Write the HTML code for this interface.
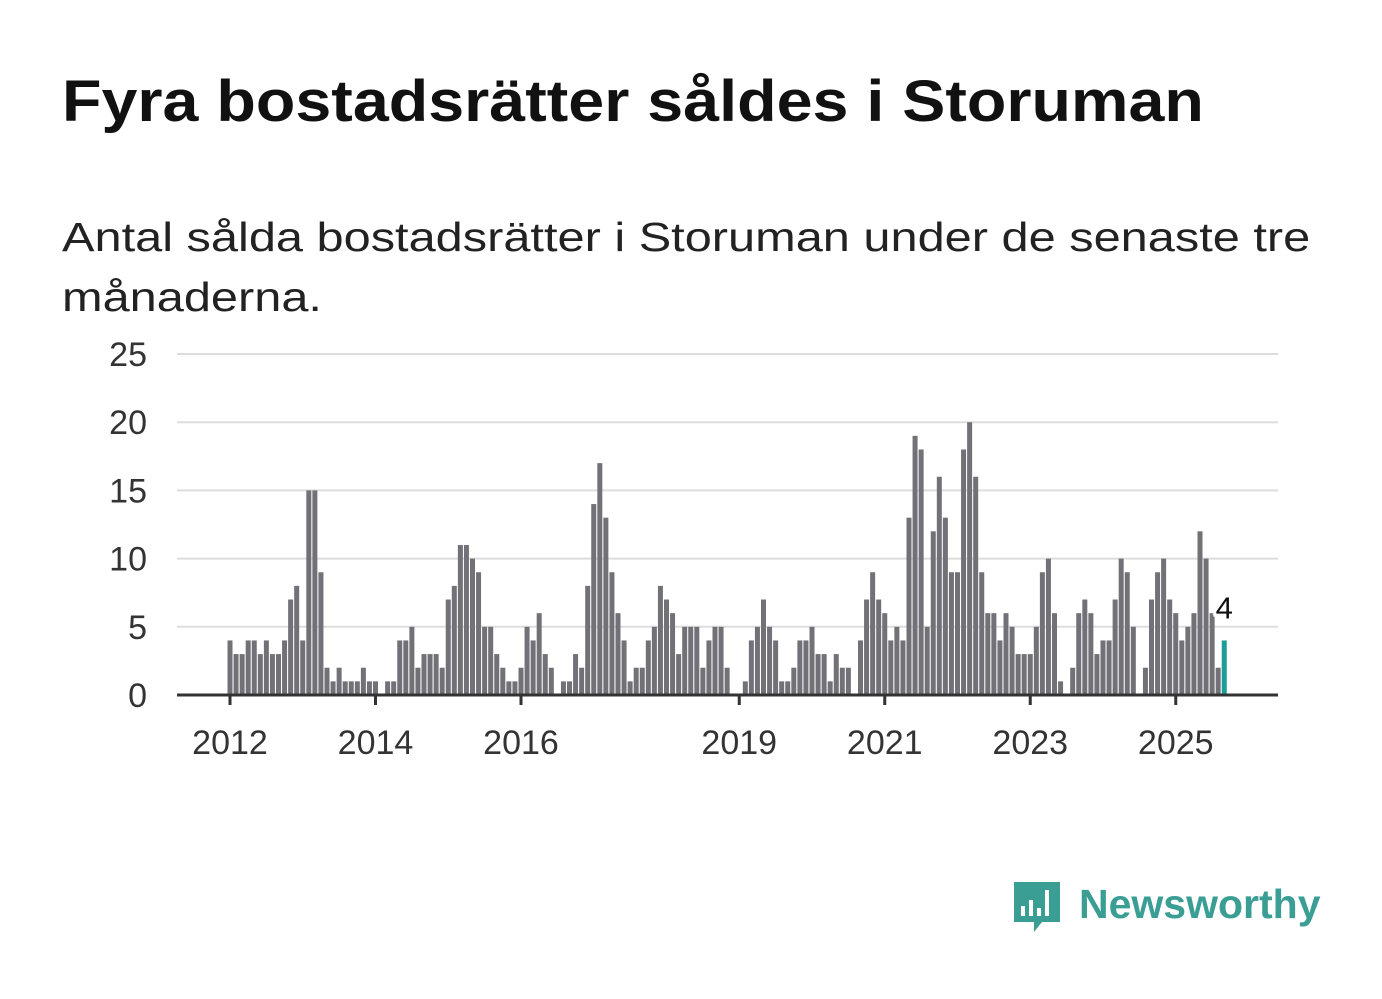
<!DOCTYPE html>
<html><head><meta charset="utf-8"><style>
body{margin:0;background:#fff;width:1382px;height:999px;overflow:hidden;font-family:"Liberation Sans",sans-serif}
#title{position:absolute;left:62px;top:68px;font-size:58px;font-weight:bold;color:#111;margin:0;white-space:nowrap;transform:scaleX(1.114);transform-origin:0 0}
.sub{position:absolute;left:62px;font-size:41px;color:#222;white-space:nowrap;transform:scaleX(1.188);transform-origin:0 0}
#logo{position:absolute;left:1012px;top:880px}
</style></head><body>
<h1 id="title">Fyra bostadsrätter såldes i Storuman</h1>
<div class="sub" style="top:214px">Antal sålda bostadsrätter i Storuman under de senaste tre</div>
<div class="sub" style="top:274px">månaderna.</div>
<svg id="chart" width="1382" height="999" style="position:absolute;left:0;top:0" xmlns="http://www.w3.org/2000/svg"></svg>
<div id="logo">
<svg width="310" height="60" xmlns="http://www.w3.org/2000/svg">
<path d="M2 2h46v40h-18l-8 10v-10h-20z" fill="#3a9e94"/>
<rect x="9" y="26" width="4" height="10" fill="#fff"/><rect x="17" y="20" width="4" height="16" fill="#fff"/><rect x="25" y="28" width="4" height="8" fill="#fff"/><rect x="33" y="10" width="4" height="26" fill="#fff"/>
<text x="67" y="38" font-size="41" font-weight="bold" fill="#3a9e94" font-family="Liberation Sans, sans-serif">Newsworthy</text>
</svg></div>
<script>
const values = [
4,3,3,4,4,3,4,3,3,4,7,8,
4,15,15,9,2,1,2,1,1,1,2,1,
1,0,1,1,4,4,5,2,3,3,3,2,
7,8,11,11,10,9,5,5,3,2,1,1,
2,5,4,6,3,2,0,1,1,3,2,8,
14,17,13,9,6,4,1,2,2,4,5,8,
7,6,3,5,5,5,2,4,5,5,2,0,
0,1,4,5,7,5,4,1,1,2,4,4,
5,3,3,1,3,2,2,0,4,7,9,7,
6,4,5,4,13,19,18,5,12,16,13,9,
9,18,20,16,9,6,6,4,6,5,3,3,
3,5,9,10,6,1,0,2,6,7,6,3,
4,4,7,10,9,5,0,2,7,9,10,7,
6,4,5,6,12,10,6,2,4];
const startYear = 2012;
const yTicks = [0,5,10,15,20,25];
const xTickYears = [2012,2014,2016,2019,2021,2023,2025];
const NS="http://www.w3.org/2000/svg";
const svg=document.getElementById('chart');
const x0=230, monthW=72.75/12, yBase=695, unit=341/25;
const xScale=i=>x0+i*monthW;
const yScale=v=>yBase-v*unit;
function mk(tag,attrs){const e=document.createElementNS(NS,tag);for(const k in attrs)e.setAttribute(k,attrs[k]);svg.appendChild(e);return e;}
yTicks.forEach(t=>{
  if(t>0){const g=mk('line',{x1:177,x2:1278,y1:yScale(t),y2:yScale(t),stroke:'#dddddd','stroke-width':2});
  
  }
  const l=mk('text',{x:147,y:yScale(t)+12,'text-anchor':'end','font-size':34,fill:'#333'});
  l.textContent=t;
  
  
});
values.forEach((v,i)=>{
  const last=i===values.length-1;
  const b=mk('rect',{x:xScale(i)-2.5,y:yScale(v),width:5,height:v*unit,fill:last?'#1a9e96':'#717177'});
  
  
});
const ax=mk('line',{x1:177,x2:1278,y1:yBase,y2:yBase,stroke:'#333','stroke-width':3});


xTickYears.forEach(yr=>{
  const x=xScale((yr-startYear)*12);
  const tk=mk('line',{x1:x,x2:x,y1:yBase,y2:yBase+10,stroke:'#333','stroke-width':3});
  
  
  const t=mk('text',{x:x,y:754,'text-anchor':'middle','font-size':34,fill:'#333'});
  t.textContent=yr;
  
  
});
const li=values.length-1;
const lab=mk('text',{x:xScale(li),y:yScale(values[li])-22,'text-anchor':'middle','font-size':31,fill:'#111',stroke:'#fff','stroke-width':6,'paint-order':'stroke'});
lab.textContent=values[li];


</script>
</body></html>
